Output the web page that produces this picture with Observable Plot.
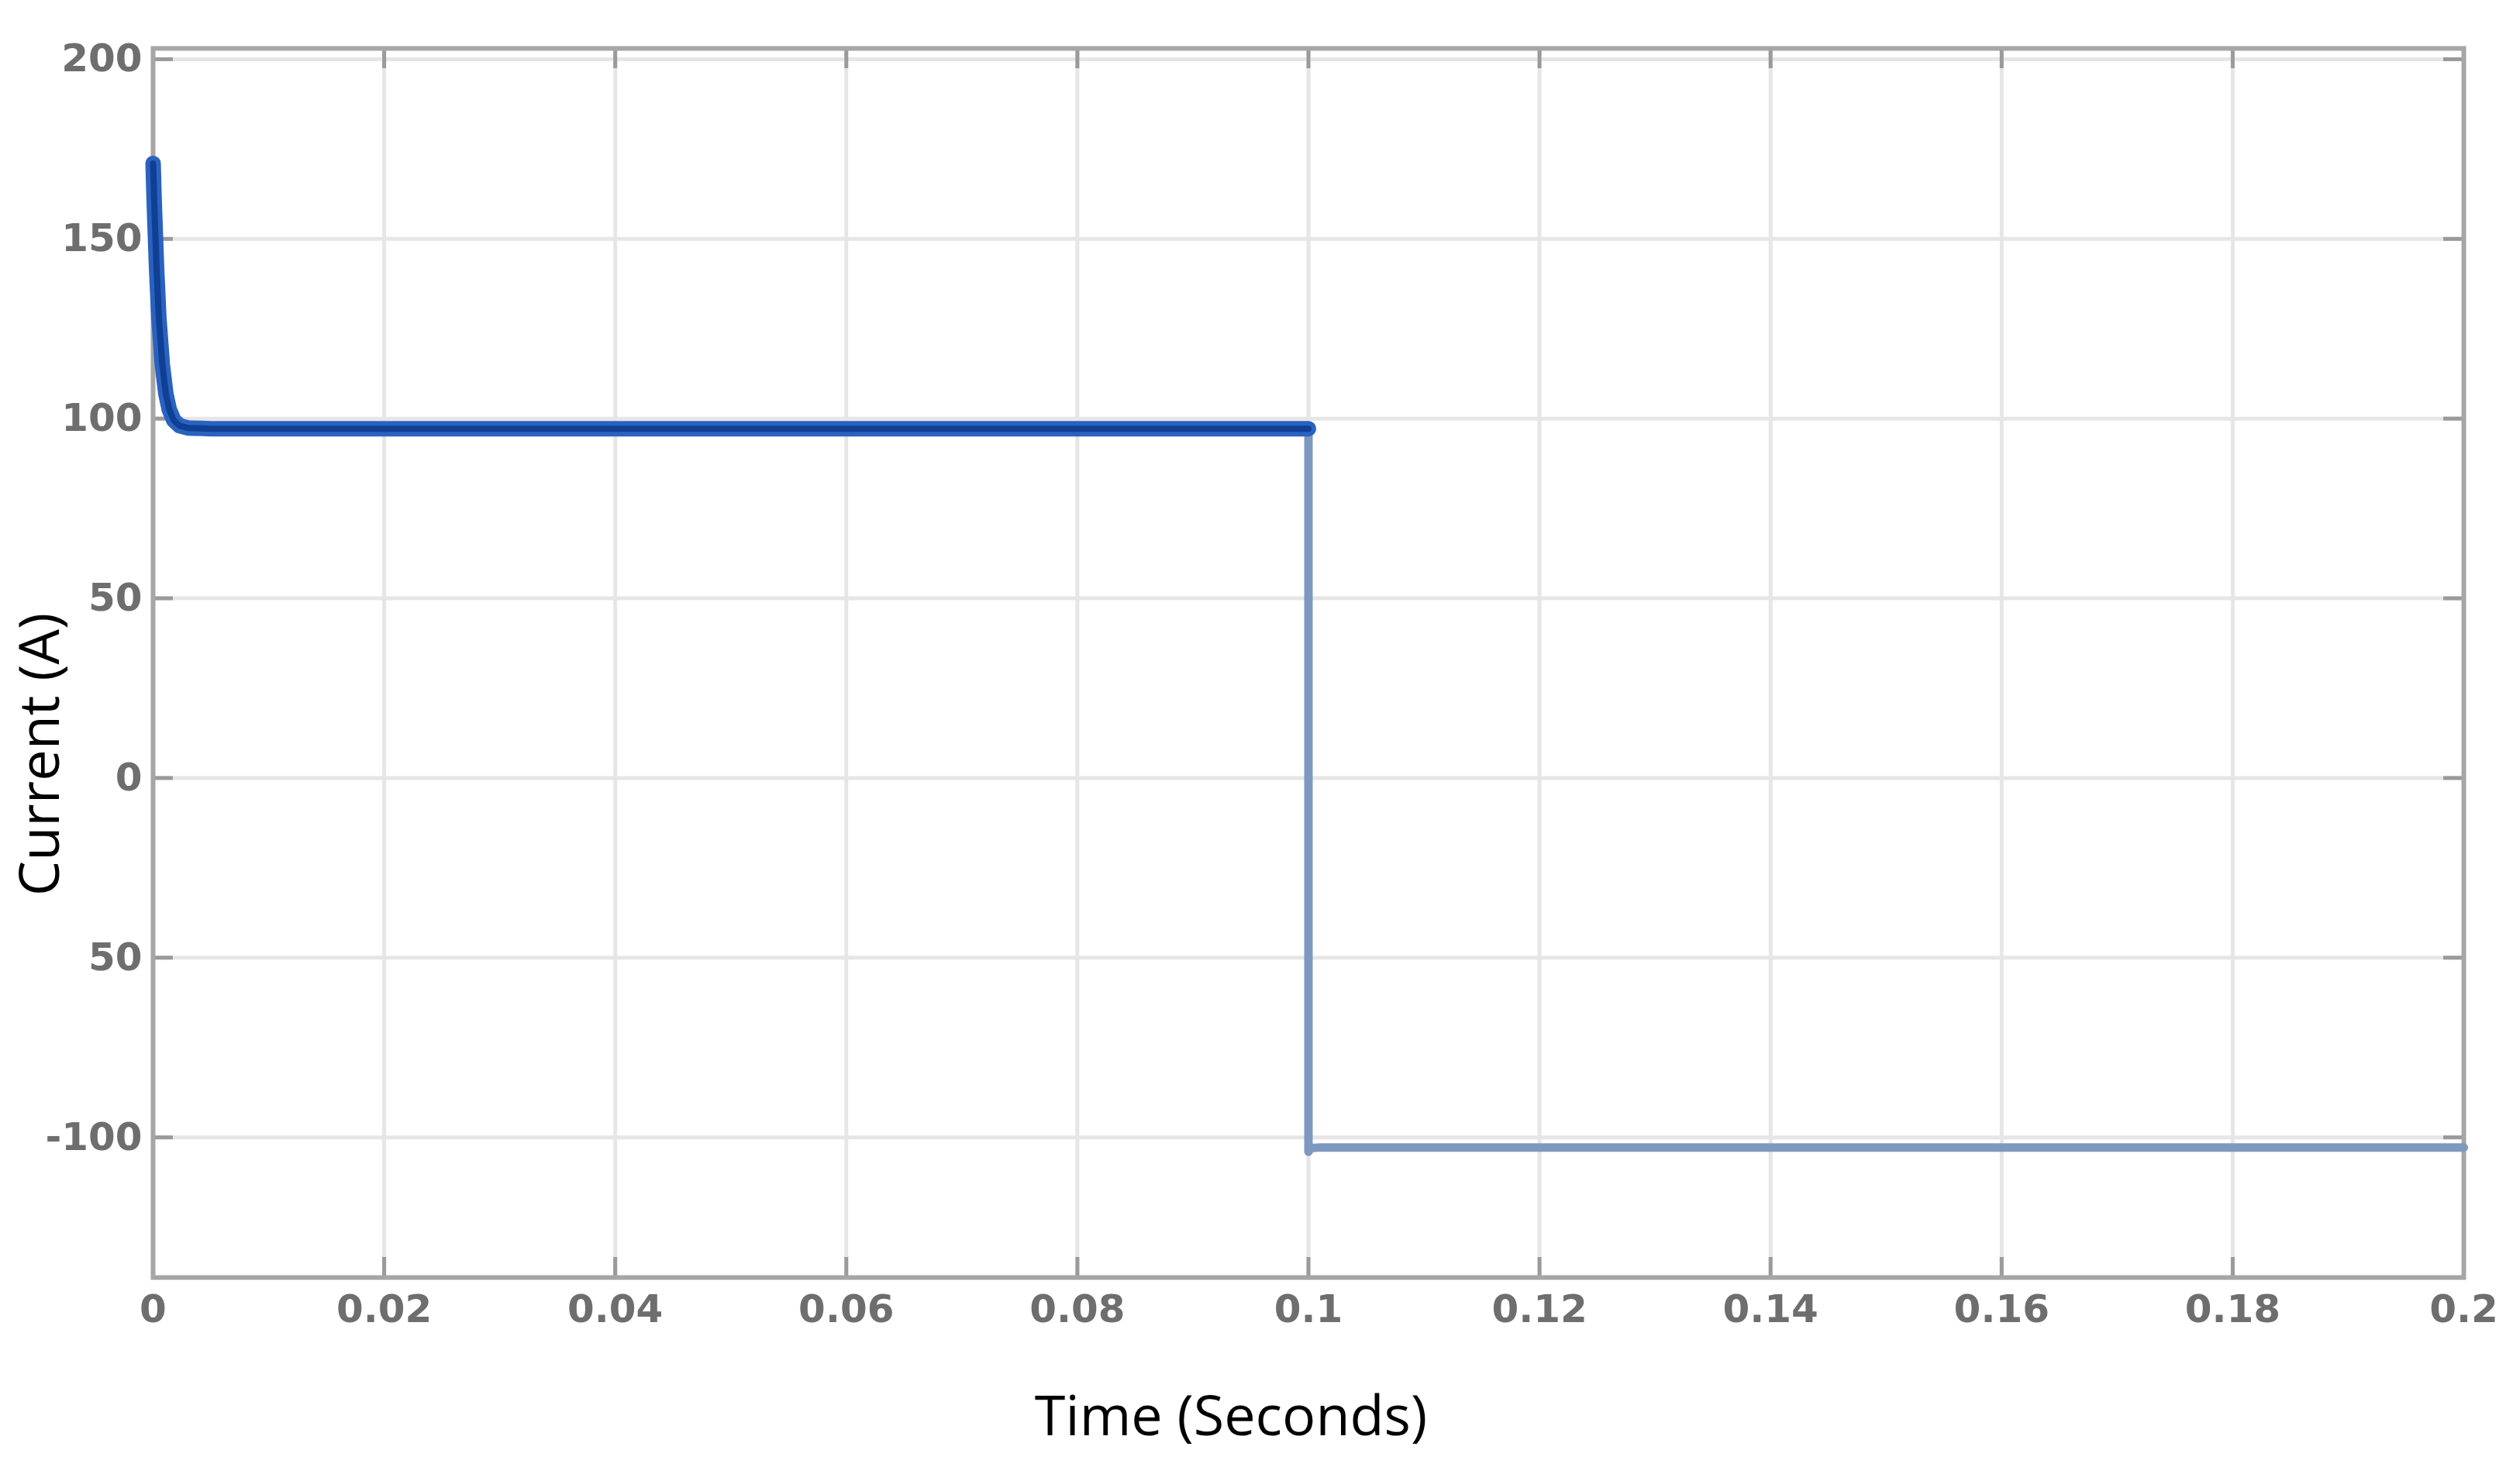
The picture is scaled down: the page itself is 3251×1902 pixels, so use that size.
<!DOCTYPE html>
<html><head><meta charset="utf-8">
<script src="https://cdn.jsdelivr.net/npm/d3@7"></script>
<script src="https://cdn.jsdelivr.net/npm/@observablehq/plot@0.6"></script>
<style>html,body{margin:0;padding:0;background:#fff;}</style>
</head><body><div id="chart"></div>
<script>
const xTicks = [0, 0.02, 0.04, 0.06, 0.08, 0.1, 0.12, 0.14, 0.16, 0.18, 0.2];
const xTickLabels = ["0", "0.02", "0.04", "0.06", "0.08", "0.1", "0.12", "0.14", "0.16", "0.18", "0.2"];
const yTicks = [-100, -50, 0, 50, 100, 150, 200];
const yTickLabels = ["-100", "50", "0", "50", "100", "150", "200"];

// Series 1: start-up transient and steady current before t = 0.1 s
const time1 = [0, 0.0001, 0.0003, 0.0005, 0.0008, 0.0011, 0.0014, 0.0018, 0.0023, 0.003, 0.005, 0.02, 0.05, 0.08, 0.1];
const current1 = [171, 160, 142, 128, 115, 107, 102.5, 99.5, 98, 97.4, 97.2, 97.2, 97.2, 97.2, 97.2];
// Series 2: current reversal at t = 0.1 s and after
const time2 = [0.1, 0.1, 0.1002, 0.101, 0.15, 0.2];
const current2 = [97.2, -104, -103, -102.8, -102.8, -102.8];

const xLabel = "Time (Seconds)";
const yLabel = "Current (A)";

const s1 = time1.map((t, i) => ({t, c: current1[i]}));
const s2 = time2.map((t, i) => ({t, c: current2[i]}));

const W = 3251, H = 1902;
const mL = 197, mR = 73, mT = 62, mB = 254;
const frameH = H - mT - mB, frameW = W - mL - mR;
const tickLen = 26;

const plot = Plot.plot({
  width: W, height: H,
  marginLeft: mL, marginRight: mR, marginTop: mT, marginBottom: mB,
  style: {background: "#fff", fontFamily: "'DejaVu Sans', sans-serif"},
  x: {domain: [0, 0.2]},
  y: {domain: [-139, 203]},
  marks: [
    Plot.gridX(xTicks, {stroke: "#e6e6e6", strokeOpacity: 1, strokeWidth: 5}),
    Plot.gridY(yTicks, {stroke: "#e6e6e6", strokeOpacity: 1, strokeWidth: 5}),
    // inner tick marks (MATLAB box style)
    Plot.ruleX(xTicks, {x: d => d, insetTop: frameH - tickLen, stroke: "#9a9a9a", strokeWidth: 5}),
    Plot.ruleX(xTicks, {x: d => d, insetBottom: frameH - tickLen, stroke: "#9a9a9a", strokeWidth: 5}),
    Plot.ruleY(yTicks, {y: d => d, insetRight: frameW - tickLen, stroke: "#9a9a9a", strokeWidth: 5}),
    Plot.ruleY(yTicks, {y: d => d, insetLeft: frameW - tickLen, stroke: "#9a9a9a", strokeWidth: 5}),
    Plot.frame({stroke: "#a6a6a6", strokeWidth: 6}),
    Plot.axisX({ticks: xTicks, tickFormat: (d, i) => xTickLabels[i], tickSize: 0, tickPadding: 22,
      fontSize: 50, fontWeight: "bold", fill: "#6e6e6e", label: null}),
    Plot.axisY({ticks: yTicks, tickFormat: (d, i) => yTickLabels[i], tickSize: 0, tickPadding: 14,
      fontSize: 50, fontWeight: "bold", fill: "#6e6e6e", label: null}),
    Plot.line(s2, {x: "t", y: "c", stroke: "#7f98bf", strokeWidth: 11, curve: "linear"}),
    Plot.line(s1, {x: "t", y: "c", stroke: "#2a62c0", strokeWidth: 20, curve: "linear"}),
    Plot.line(s1, {x: "t", y: "c", stroke: "#103f94", strokeWidth: 8, curve: "linear"}),
    Plot.text([xLabel], {text: d => d, frameAnchor: "bottom", dx: -100, dy: 180, lineAnchor: "middle",
      fontSize: 72, fontFamily: "'Open Sans', sans-serif", fill: "#000"}),
    Plot.text([yLabel], {text: d => d, frameAnchor: "left", rotate: -90, dx: -122, dy: 118,
      textAnchor: "middle", lineAnchor: "bottom",
      fontSize: 72, fontFamily: "'Open Sans', sans-serif", fill: "#000"})
  ]
});
document.getElementById("chart").appendChild(plot);
</script>
</body></html>
